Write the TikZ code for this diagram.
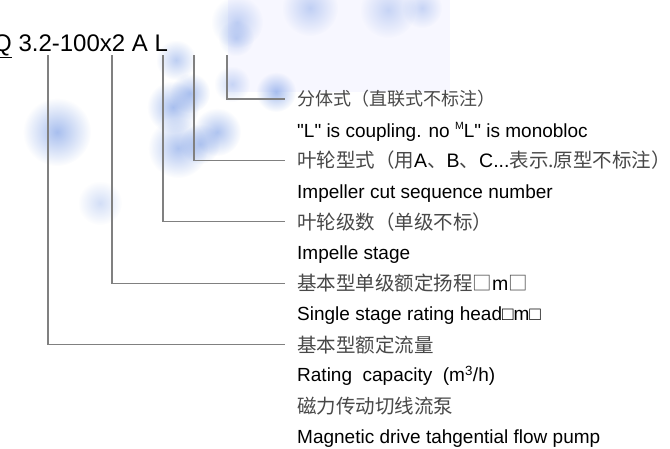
\documentclass[tikz,border=0pt]{standalone}
\usepackage{fontspec}
\setmainfont{Liberation Sans}
\newfontfamily\cjk{Noto Sans CJK SC}
\usetikzlibrary{fadings}
\definecolor{blobblue}{RGB}{110,148,228}
\definecolor{leadgray}{RGB}{128,128,128}
\definecolor{zhgray}{RGB}{72,72,72}
\tikzfading[name=softblob, inner color=transparent!0, outer color=transparent!100]
\tikzstyle{zhlabel} = [anchor=west, 
inner sep=0pt, 
text=zhgray, 
font=\cjk\fontsize{19.5}{22}\selectfont]
\tikzstyle{enlabel} = [anchor=base west, 
inner sep=0pt, 
text=black, 
font=\fontsize{19}{22}\selectfont]
\tikzstyle{lead} = [draw=leadgray, line width=1.2pt, shorten >=12pt]
\tikzstyle{blob} = [fill=blobblue, path fading=softblob]
\newcommand{\latin}[1]{\textcolor{black}{\rmfamily #1}}
\newcommand{\smallM}{\raisebox{0.75ex}{\fontsize{10.5}{11}\selectfont M}}

\begin{document}
\begin{tikzpicture}[x=1pt, y=-1pt]
    \useasboundingbox (0,0) rectangle (670,448);
    \fill[white] (0,0) rectangle (670,448);

    % Background blobs
    \fill[blue!3] (228,0) rectangle (450,92);
    \foreach \bx/\by/\br/\bo in {57/132/34/0.6, 100/203/22/0.3, 173/107/26/0.6,
      190/93/20/0.55, 178/148/30/0.55, 217/132/24/0.55, 200/144/20/0.45,
      176/60/20/0.45, 236/38/18/0.35, 237/22/26/0.4, 310/8/28/0.4,
      388/10/28/0.35, 422/8/20/0.35, 276/92/20/0.6, 232/84/18/0.35}
      \fill[blob, fill opacity=\bo] (\bx,\by) circle (\br);

    % Model code
    \node (model) [anchor=base west, inner sep=0pt, font=\fontsize{24}{28}\selectfont] at (-7,51) {\underline{Q} 3.2-100x2 A L};

    \coordinate (pos32) at (48,55);
    \coordinate (pos100) at (112,55);
    \coordinate (posx2) at (163,55);
    \coordinate (posA) at (194,55);
    \coordinate (posL) at (227,55);

    % Chinese labels
    \node (zhsplit) [zhlabel, font=\cjk\fontsize{18}{21}\selectfont] at (297,99) {分体式（直联式不标注）};
    \node (zhcut) [zhlabel] at (297,160.4) {叶轮型式（用\latin{A}、\latin{B}、\latin{C...}表示.原型不标注）};
    \node (zhstage) [zhlabel] at (297,221.8) {叶轮级数（单级不标）};
    \node (zhhead) [zhlabel] at (297,283.2) {基本型单级额定扬程□\latin{m}□};
    \node (zhflow) [zhlabel] at (297,344.6) {基本型额定流量};
    \node (zhpump) [zhlabel] at (297,406) {磁力传动切线流泵};

    % English labels
    \node (ensplit) [enlabel] at (297,137) {\textquotedbl L\textquotedbl{} is coupling. no \smallM L\textquotedbl{} is monobloc};
    \node (encut) [enlabel] at (297,198.2) {Impeller cut sequence number};
    \node (enstage) [enlabel] at (297,259.4) {Impelle stage};
    \node (enhead) [enlabel] at (297,320.6) {Single stage rating head□m□};
    \node (enflow) [enlabel] at (297,381.8) {Rating\ \ capacity\ \ (m\textsuperscript{3}/h)};
    \node (enpump) [enlabel] at (297,443) {Magnetic drive tahgential flow pump};

    % Leader lines
    \draw [lead] (posL) |- (zhsplit.west);
    \draw [lead] (posA) |- (zhcut.west);
    \draw [lead] (posx2) |- (zhstage.west);
    \draw [lead] (pos100) |- (zhhead.west);
    \draw [lead] (pos32) |- (zhflow.west);
\end{tikzpicture}
\end{document}
